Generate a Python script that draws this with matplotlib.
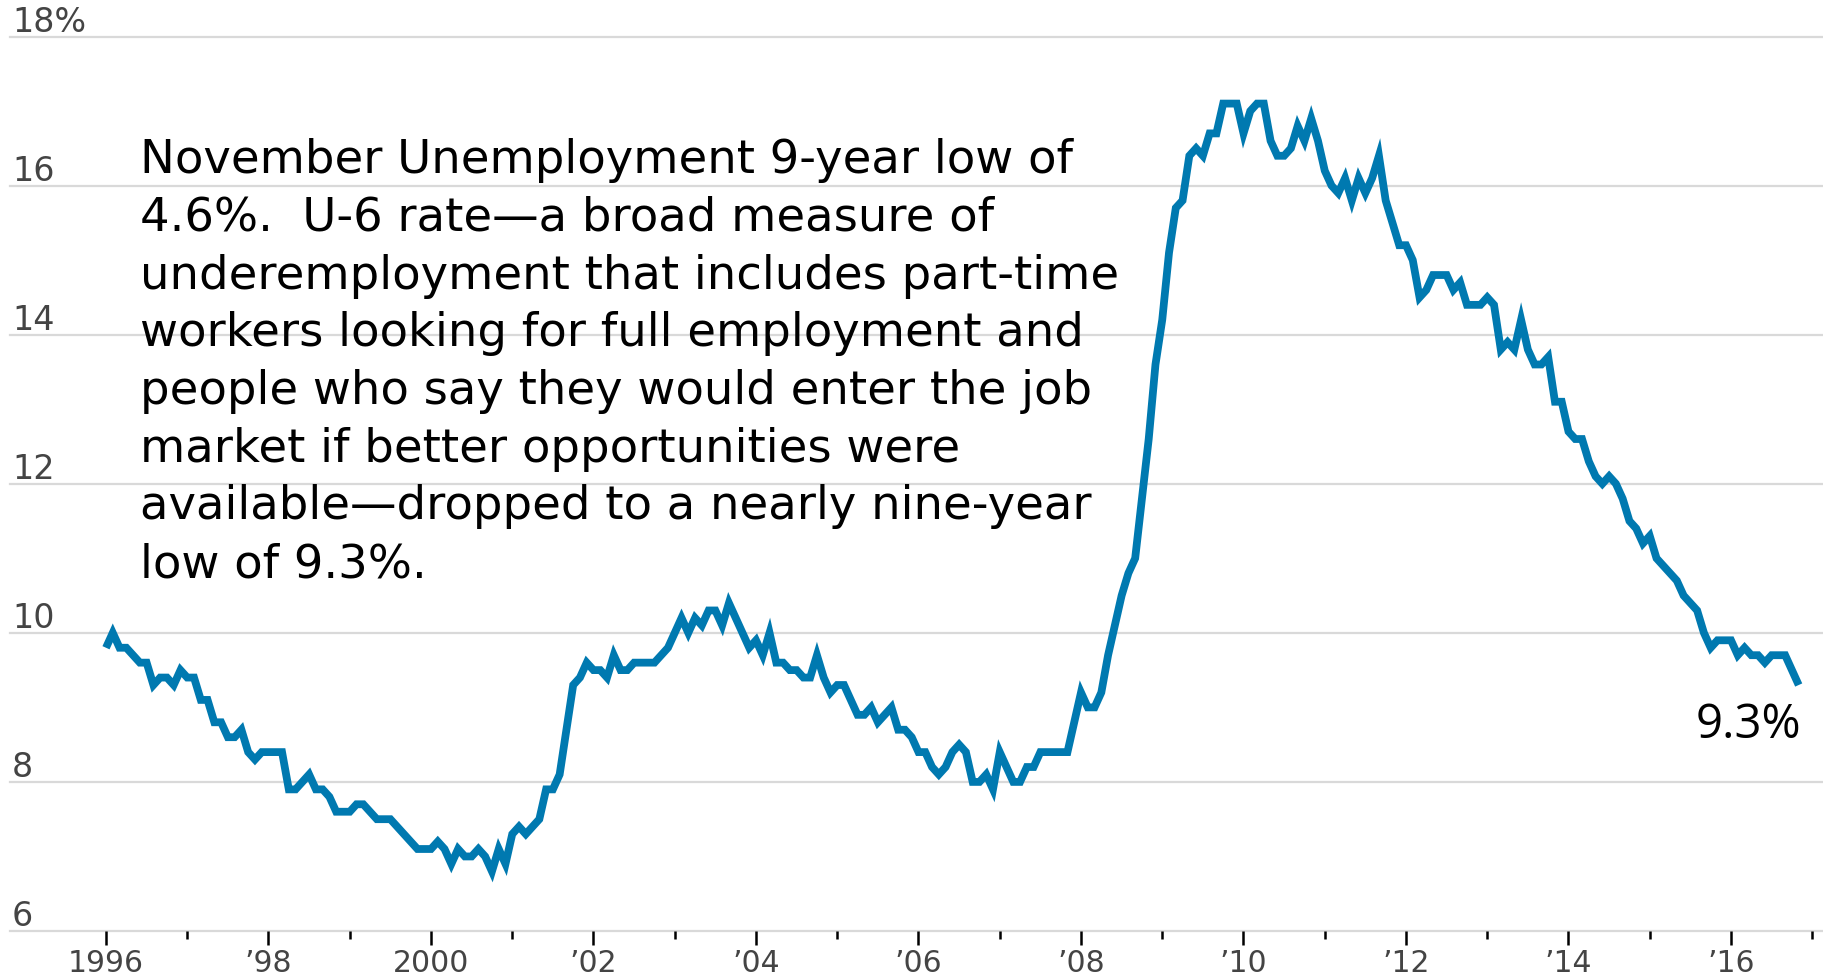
import numpy as np
import matplotlib
matplotlib.use("Agg")
import matplotlib.pyplot as plt
from matplotlib.transforms import blended_transform_factory, offset_copy

# U-6 underemployment rate, monthly, seasonally adjusted (percent), Jan 1996 - Nov 2016
first_year = 1996
u6_rate = [
    9.8, 10.0, 9.8, 9.8, 9.7, 9.6, 9.6, 9.3, 9.4, 9.4, 9.3, 9.5,        # 1996
    9.4, 9.4, 9.1, 9.1, 8.8, 8.8, 8.6, 8.6, 8.7, 8.4, 8.3, 8.4,         # 1997
    8.4, 8.4, 8.4, 7.9, 7.9, 8.0, 8.1, 7.9, 7.9, 7.8, 7.6, 7.6,         # 1998
    7.6, 7.7, 7.7, 7.6, 7.5, 7.5, 7.5, 7.4, 7.3, 7.2, 7.1, 7.1,         # 1999
    7.1, 7.2, 7.1, 6.9, 7.1, 7.0, 7.0, 7.1, 7.0, 6.8, 7.1, 6.9,         # 2000
    7.3, 7.4, 7.3, 7.4, 7.5, 7.9, 7.9, 8.1, 8.7, 9.3, 9.4, 9.6,         # 2001
    9.5, 9.5, 9.4, 9.7, 9.5, 9.5, 9.6, 9.6, 9.6, 9.6, 9.7, 9.8,         # 2002
    10.0, 10.2, 10.0, 10.2, 10.1, 10.3, 10.3, 10.1, 10.4, 10.2, 10.0, 9.8,  # 2003
    9.9, 9.7, 10.0, 9.6, 9.6, 9.5, 9.5, 9.4, 9.4, 9.7, 9.4, 9.2,        # 2004
    9.3, 9.3, 9.1, 8.9, 8.9, 9.0, 8.8, 8.9, 9.0, 8.7, 8.7, 8.6,         # 2005
    8.4, 8.4, 8.2, 8.1, 8.2, 8.4, 8.5, 8.4, 8.0, 8.0, 8.1, 7.9,         # 2006
    8.4, 8.2, 8.0, 8.0, 8.2, 8.2, 8.4, 8.4, 8.4, 8.4, 8.4, 8.8,         # 2007
    9.2, 9.0, 9.0, 9.2, 9.7, 10.1, 10.5, 10.8, 11.0, 11.8, 12.6, 13.6,  # 2008
    14.2, 15.1, 15.7, 15.8, 16.4, 16.5, 16.4, 16.7, 16.7, 17.1, 17.1, 17.1,  # 2009
    16.7, 17.0, 17.1, 17.1, 16.6, 16.4, 16.4, 16.5, 16.8, 16.6, 16.9, 16.6,  # 2010
    16.2, 16.0, 15.9, 16.1, 15.8, 16.1, 15.9, 16.1, 16.4, 15.8, 15.5, 15.2,  # 2011
    15.2, 15.0, 14.5, 14.6, 14.8, 14.8, 14.8, 14.6, 14.7, 14.4, 14.4, 14.4,  # 2012
    14.5, 14.4, 13.8, 13.9, 13.8, 14.2, 13.8, 13.6, 13.6, 13.7, 13.1, 13.1,  # 2013
    12.7, 12.6, 12.6, 12.3, 12.1, 12.0, 12.1, 12.0, 11.8, 11.5, 11.4, 11.2,  # 2014
    11.3, 11.0, 10.9, 10.8, 10.7, 10.5, 10.4, 10.3, 10.0, 9.8, 9.9, 9.9,     # 2015
    9.9, 9.7, 9.8, 9.7, 9.7, 9.6, 9.7, 9.7, 9.7, 9.5, 9.3,                   # 2016
]

y_ticks = [6, 8, 10, 12, 14, 16, 18]
y_tick_labels = ["6", "8", "10", "12", "14", "16", "18%"]
x_major_ticks = [1996, 1998, 2000, 2002, 2004, 2006, 2008, 2010, 2012, 2014, 2016]
x_major_labels = ["1996", "\u201998", "2000", "\u201902", "\u201904", "\u201906",
                  "\u201908", "\u201910", "\u201912", "\u201914", "\u201916"]
x_minor_ticks = [1997, 1999, 2001, 2003, 2005, 2007, 2009, 2011, 2013, 2015, 2017]

note = ("November Unemployment 9-year low of\n"
        "4.6%.  U-6 rate\u2014a broad measure of\n"
        "underemployment that includes part-time\n"
        "workers looking for full employment and\n"
        "people who say they would enter the job\n"
        "market if better opportunities were\n"
        "available\u2014dropped to a nearly nine-year\n"
        "low of 9.3%.")

LINE_BLUE = "#0079b0"
GRID_GREY = "#d9d9d9"
TICK_TEXT = "#444444"

W, H = 1824, 980
fig = plt.figure(figsize=(W / 100, H / 100), dpi=100)
fig.patch.set_facecolor("white")

# plot area: bottom edge sits on the 6% baseline, top reaches the figure edge
ax = fig.add_axes([0, 49 / H, 1, 931 / H])
px_per_year = 81.25
ax.set_xlim(1996 - 106 / px_per_year, 1996 + (W - 106) / px_per_year)
ax.set_ylim(6, 18 + 36.5 / 74.54)
for s in ax.spines.values():
    s.set_visible(False)
ax.set_facecolor("none")

# horizontal gridlines
for v in y_ticks:
    ax.axhline(v, xmin=10 / W, xmax=1, color=GRID_GREY, lw=1.6, zorder=1, clip_on=False)

# y labels sit just above their gridlines, flush left
ylab_tr = offset_copy(blended_transform_factory(ax.transAxes, ax.transData),
                      fig=fig, x=0, y=5, units="dots")
for v, lab in zip(y_ticks, y_tick_labels):
    ax.text(12 / W, v, lab, transform=ylab_tr, ha="left", va="baseline",
            fontsize=24, color=TICK_TEXT, family="DejaVu Sans")
ax.set_yticks([])

# x axis: labelled even years, short ticks on odd years
ax.set_xticks(x_major_ticks)
ax.set_xticklabels(x_major_labels, family="DejaVu Sans")
ax.set_xticks(x_minor_ticks, minor=True)
ax.tick_params(axis="x", which="major", direction="out", length=10, width=1.8,
               color="black", pad=3, labelsize=21.5, labelcolor=TICK_TEXT)
ax.tick_params(axis="x", which="minor", direction="out", length=5.8, width=1.8,
               color="black")

# series
months = first_year + np.arange(len(u6_rate)) / 12.0
ax.plot(months, u6_rate, color=LINE_BLUE, lw=5.6, solid_joinstyle="miter",
        solid_capstyle="butt", zorder=3)

# end-value label
ax.annotate(f"{u6_rate[-1]:.1f}%", xy=(months[-1], u6_rate[-1]),
            xytext=(3, -53), textcoords="offset pixels",
            ha="right", va="baseline", fontsize=34, family="Open Sans",
            color="black")

# explanatory note (anchored on the baseline of its last line)
fig.text(140 / W, 1 - 577 / H, note, ha="left", va="baseline",
         fontsize=33.5, family="DejaVu Sans", color="black", linespacing=1.362)

fig.savefig("out.png", dpi=100, facecolor="white")
